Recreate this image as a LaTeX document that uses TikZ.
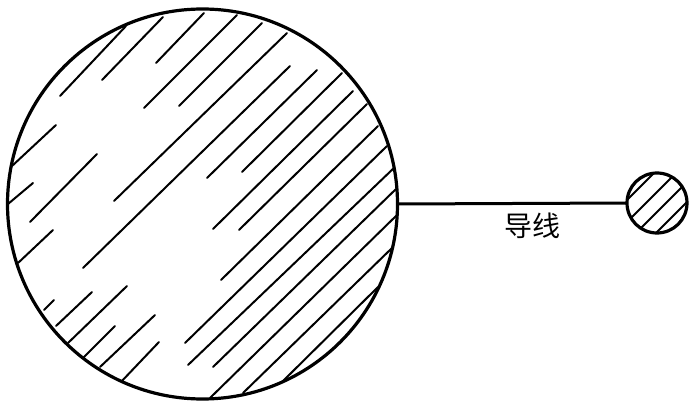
\documentclass[tikz,border=0pt]{standalone}
\usepackage{fontspec}
\newfontfamily\cjk{Noto Sans CJK SC}
\begin{document}
\begin{tikzpicture}[x=1pt,y=-1pt,
  rim/.style={draw=black,line width=3.2pt},
  hatch/.style={line width=2pt,line cap=round},
  wire/.style={line width=3pt}]
\useasboundingbox (0,0) rectangle (694,412);
% big sphere
\node[circle,rim,minimum size=390pt,inner sep=0pt,outer sep=0pt] (big) at (202.5,204) {};
\begin{scope}
\clip (202.5,204) circle[radius=195];
\foreach \a/\b/\c/\d in {
 60/96/126/26, 102/80/163/17, 156/63/204/13, 144/108/237/15, 179/106/262/23,
 114/201/287/33, 83/268/290/66, 207/178/317/70, 242/172/342/73, 213/229/353/91,
 239/230/367/104, 221/280/378/126, 185/343/387/146, 188/365/395/167, 213/367/396/189,
 210/398/397/215, 243/393/392/248, 282/382/378/287,
 12/166/56/125, 8/204/33/183, 30/222/97/154, 18/263/53/230, 44/310/54/300,
 56/326/92/292, 68/343/127/286, 82/359/115/326, 100/367/155/315, 120/383/159/342}
  \draw[hatch] (\a,\b) -- (\c,\d);
\end{scope}
% small sphere
\node[circle,rim,minimum size=60pt,inner sep=0pt,outer sep=0pt] (small) at (657,203) {};
\begin{scope}
\clip (657,203) circle[radius=30];
\foreach \s in {827,849,869,889}
  \draw[hatch] (600,\s-600) -- (720,\s-720);
\end{scope}
% wire
\draw[wire] (big.east) -- (small.west);
\node[font={\cjk\fontsize{28}{28}\selectfont}] (lbl) at (532,226) {导线};
\end{tikzpicture}
\end{document}
